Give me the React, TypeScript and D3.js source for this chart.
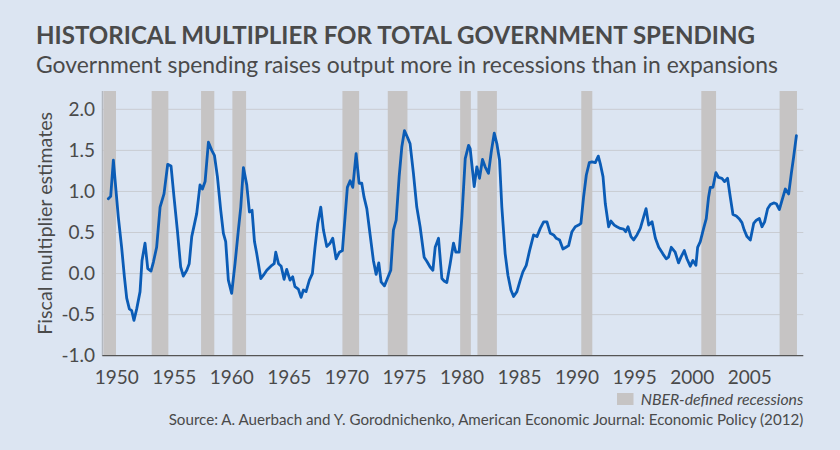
import React from "react";
import * as d3 from "d3";

const years = [
  1949.27, 1949.48, 1949.71, 1949.94, 1950.14, 1950.43, 1950.67, 1950.87, 1951.1, 1951.3, 1951.5, 1951.74,
  1952.03, 1952.2, 1952.46, 1952.7, 1952.98, 1953.19, 1953.47, 1953.77, 1954.11, 1954.43, 1954.72, 1954.98,
  1955.27, 1955.56, 1955.79, 1956.09, 1956.3, 1956.52, 1956.95, 1957.24, 1957.45, 1957.68, 1957.97, 1958.26,
  1958.49, 1958.75, 1959.04, 1959.27, 1959.47, 1959.7, 1959.99, 1960.28, 1960.57, 1960.78, 1961.01, 1961.3,
  1961.53, 1961.76, 1961.97, 1962.17, 1962.52, 1962.75, 1963.04, 1963.48, 1963.68, 1963.82, 1964.06, 1964.29,
  1964.54, 1964.77, 1965.06, 1965.29, 1965.49, 1965.78, 1966.02, 1966.22, 1966.45, 1966.74, 1967.0, 1967.23,
  1967.47, 1967.73, 1967.96, 1968.25, 1968.54, 1968.77, 1969.06, 1969.35, 1969.61, 1969.84, 1970.04, 1970.28,
  1970.51, 1970.8, 1971.06, 1971.29, 1971.49, 1971.73, 1972.02, 1972.3, 1972.54, 1972.77, 1972.97, 1973.26,
  1973.52, 1973.81, 1974.04, 1974.28, 1974.54, 1974.77, 1975.0, 1975.26, 1975.49, 1975.78, 1976.07, 1976.36,
  1976.71, 1976.94, 1977.23, 1977.47, 1977.67, 1977.96, 1978.25, 1978.45, 1978.68, 1978.97, 1979.26, 1979.46,
  1979.75, 1979.99, 1980.28, 1980.57, 1980.71, 1981.06, 1981.29, 1981.52, 1981.78, 1982.01, 1982.3, 1982.54,
  1982.8, 1983.03, 1983.26, 1983.46, 1983.75, 1983.99, 1984.25, 1984.48, 1984.77, 1985.06, 1985.29, 1985.58,
  1985.87, 1986.22, 1986.51, 1986.8, 1987.09, 1987.38, 1987.67, 1987.96, 1988.19, 1988.48, 1988.77, 1989.03,
  1989.26, 1989.55, 1989.84, 1990.13, 1990.33, 1990.56, 1990.8, 1991.06, 1991.29, 1991.58, 1991.84, 1992.01,
  1992.25, 1992.45, 1992.74, 1992.94, 1993.23, 1993.46, 1993.75, 1994.04, 1994.22, 1994.42, 1994.68, 1994.91,
  1995.2, 1995.49, 1995.78, 1995.99, 1996.22, 1996.51, 1996.8, 1997.09, 1997.45, 1997.74, 1997.94, 1998.18,
  1998.52, 1998.81, 1999.02, 1999.31, 1999.54, 1999.83, 2000.06, 2000.32, 2000.47, 2000.7, 2000.99, 2001.22,
  2001.42, 2001.57, 2001.8, 2002.06, 2002.29, 2002.58, 2002.81, 2003.07, 2003.31, 2003.54, 2003.83, 2004.12,
  2004.32, 2004.52, 2004.76, 2005.05, 2005.34, 2005.57, 2005.83, 2006.06, 2006.29, 2006.55, 2006.79, 2007.08,
  2007.31, 2007.57, 2007.8, 2008.09, 2008.38, 2008.61, 2008.81, 2009.05,
];

const multiplier = [
  0.91, 0.94, 1.38, 1.01, 0.69, 0.32, -0.04, -0.3, -0.43, -0.45, -0.57, -0.43,
  -0.22, 0.16, 0.37, 0.06, 0.03, 0.14, 0.32, 0.81, 0.97, 1.33, 1.31, 0.93,
  0.53, 0.08, -0.03, 0.04, 0.12, 0.45, 0.73, 1.08, 1.03, 1.12, 1.6, 1.5,
  1.44, 1.18, 0.77, 0.49, 0.39, -0.08, -0.24, 0.12, 0.53, 0.81, 1.29, 1.08,
  0.75, 0.77, 0.39, 0.24, -0.06, -0.02, 0.04, 0.1, 0.12, 0.26, 0.12, 0.09,
  -0.07, 0.05, -0.08, -0.04, -0.16, -0.19, -0.29, -0.2, -0.22, -0.08, 0.0, 0.32,
  0.61, 0.81, 0.53, 0.33, 0.37, 0.43, 0.18, 0.26, 0.28, 0.69, 1.05, 1.13,
  1.05, 1.46, 1.1, 1.1, 0.93, 0.79, 0.47, 0.16, -0.01, 0.13, -0.1, -0.15,
  -0.06, 0.04, 0.53, 0.65, 1.18, 1.54, 1.74, 1.66, 1.58, 1.22, 0.81, 0.57,
  0.2, 0.15, 0.08, 0.04, 0.32, 0.43, -0.06, -0.09, -0.11, 0.12, 0.37, 0.26,
  0.26, 0.69, 1.4, 1.56, 1.52, 1.06, 1.3, 1.16, 1.39, 1.3, 1.22, 1.48,
  1.71, 1.58, 1.38, 0.81, 0.24, -0.02, -0.2, -0.28, -0.22, -0.08, 0.02, 0.1,
  0.28, 0.47, 0.45, 0.55, 0.63, 0.63, 0.49, 0.47, 0.43, 0.41, 0.3, 0.32,
  0.34, 0.51, 0.57, 0.59, 0.61, 0.93, 1.2, 1.35, 1.36, 1.35, 1.43, 1.34,
  1.18, 0.85, 0.57, 0.64, 0.59, 0.57, 0.55, 0.54, 0.51, 0.57, 0.45, 0.41,
  0.47, 0.55, 0.69, 0.79, 0.59, 0.63, 0.43, 0.32, 0.24, 0.18, 0.2, 0.32,
  0.26, 0.13, 0.2, 0.28, 0.18, 0.09, 0.16, 0.1, 0.32, 0.39, 0.55, 0.67,
  0.93, 1.05, 1.05, 1.23, 1.17, 1.16, 1.12, 1.16, 0.93, 0.72, 0.7, 0.66,
  0.62, 0.53, 0.45, 0.41, 0.61, 0.65, 0.67, 0.57, 0.63, 0.79, 0.84, 0.86,
  0.85, 0.78, 0.89, 1.03, 0.97, 1.22, 1.42, 1.68,
];

const recessionStart = [1948.84, 1953.04, 1957.33, 1960.05, 1969.61, 1973.55, 1979.84, 1981.34, 1990.36, 2000.79, 2007.59];
const recessionEnd = [1949.94, 1954.49, 1958.48, 1961.24, 1971.06, 1975.26, 1980.77, 1983.03, 1991.32, 2002.07, 2009.1];

const yTicks = [2.0, 1.5, 1.0, 0.5, 0.0, -0.5, -1.0];
const xTicks = [1950, 1955, 1960, 1965, 1970, 1975, 1980, 1985, 1990, 1995, 2000, 2005];

const title = "HISTORICAL MULTIPLIER FOR TOTAL GOVERNMENT SPENDING";
const subtitle = "Government spending raises output more in recessions than in expansions";
const yLabel = "Fiscal multiplier estimates";
const legendLabel = "NBER-defined recessions";
const source = "Source: A. Auerbach and Y. Gorodnichenko, American Economic Journal: Economic Policy (2012)";

const W = 840;
const H = 450;
const BG = "#dce5f2";
const BAR = "#c6c4c4";
const LINE = "#0b5cb6";
const TEXT = "#4a4a4a";
const FONT = "Lato, 'Open Sans', sans-serif";

export default function App() {
  const x = d3.scaleLinear().domain([1948.75, 2009.65]).range([102.3, 803.3]);
  const y = d3.scaleLinear().domain([-1, 2.223]).range([355.7, 91]);
  const [x0, x1] = x.range();
  const [yb, yt] = y.range();

  const pts = years.map((yr, i) => [yr, multiplier[i]] as [number, number]);
  const line = d3
    .line<[number, number]>()
    .x((d) => x(d[0]))
    .y((d) => y(d[1]));

  return (
    <svg
      width={W}
      height={H}
      style={{ position: "absolute", left: 0, top: 0, display: "block" }}
      fontFamily={FONT}
    >
      <rect x={0} y={0} width={W} height={H} fill={BG} />
      <text x={36} y={44.3} fontSize={24.5} fontWeight={700} fill={TEXT} textLength={719} lengthAdjust="spacingAndGlyphs">
        {title}
      </text>
      <text x={36} y={73} fontSize={23.5} fill={TEXT} textLength={742} lengthAdjust="spacingAndGlyphs">
        {subtitle}
      </text>

      {yTicks
        .filter((t) => t > -1)
        .map((t) => (
          <line key={"g" + t} x1={x0} x2={x1} y1={y(t)} y2={y(t)} stroke="#c9ccd2" strokeWidth={1} />
        ))}

      {recessionStart.map((s, i) => (
        <rect key={"r" + i} x={x(s)} y={yt} width={x(recessionEnd[i]) - x(s)} height={yb - yt} fill={BAR} />
      ))}

      <line x1={x0} x2={x0} y1={yt} y2={yb} stroke="#a9adb3" strokeWidth={1} />
      <line x1={x0} x2={x1} y1={yb} y2={yb} stroke="#555" strokeWidth={1.2} />

      <path d={line(pts) || ""} fill="none" stroke={LINE} strokeWidth={2.8} strokeLinejoin="round" strokeLinecap="round" />

      {yTicks.map((t) => (
        <text key={"yt" + t} x={95} y={y(t)} dy="0.35em" textAnchor="end" fontSize={19} fill={TEXT}>
          {t.toFixed(1)}
        </text>
      ))}
      {xTicks.map((t) => (
        <text key={"xt" + t} x={x(t)} y={383.5} textAnchor="middle" fontSize={19} fill={TEXT}>
          {t}
        </text>
      ))}

      <text
        transform={`translate(45,${(yt + yb) / 2}) rotate(-90)`}
        textAnchor="middle"
        dy="0.35em"
        fontSize={20}
        fill={TEXT}
        textLength={223}
        lengthAdjust="spacingAndGlyphs"
      >
        {yLabel}
      </text>

      <rect x={617} y={393} width={16.5} height={12} fill={BAR} />
      <text x={640.7} y={404.5} fontSize={16} fontStyle="italic" fill={TEXT} textLength={162.6} lengthAdjust="spacingAndGlyphs">
        {legendLabel}
      </text>
      <text x={168.7} y={425} fontSize={16} fill={TEXT} textLength={634.6} lengthAdjust="spacingAndGlyphs">
        {source}
      </text>
    </svg>
  );
}
